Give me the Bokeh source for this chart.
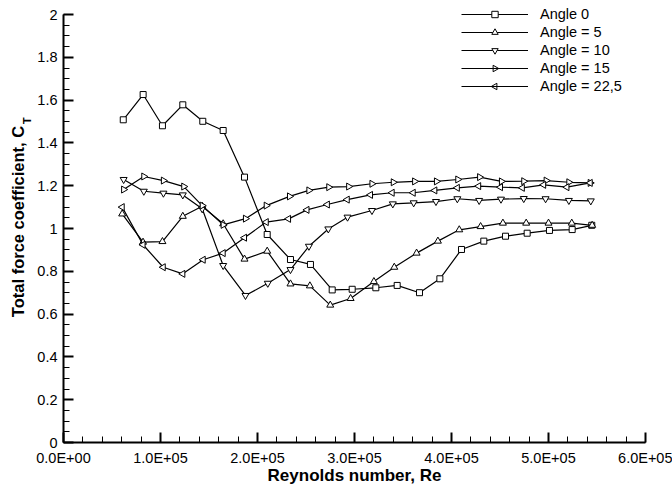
import math
from bokeh.plotting import figure
from bokeh.models import Range1d, FixedTicker, Legend, LegendItem, LinearAxis
from bokeh.embed import file_html
from bokeh.resources import INLINE

# ---------------- data ----------------
x_a0 = [61600, 82100, 102000, 123000, 143600, 164600, 186600, 210000, 234000, 254600, 277000, 297600,
        322000, 344000, 367000, 388000, 410300, 433300, 455700, 478000, 501000, 524400, 544600]
y_a0 = [1.508, 1.626, 1.48, 1.578, 1.501, 1.458, 1.24, 0.972, 0.855, 0.832, 0.713, 0.716,
        0.723, 0.734, 0.70, 0.765, 0.902, 0.941, 0.964, 0.978, 0.991, 0.995, 1.015]

x_a5 = [60500, 82000, 102000, 123000, 143000, 164600, 186600, 210000, 234000, 254000, 275000, 296000,
        320000, 341000, 364000, 386000, 408000, 430000, 453000, 477000, 500000, 524000, 545000]
y_a5 = [1.068, 0.936, 0.939, 1.057, 1.104, 1.022, 0.857, 0.894, 0.741, 0.732, 0.642, 0.673,
        0.752, 0.819, 0.885, 0.941, 0.994, 1.009, 1.025, 1.025, 1.025, 1.025, 1.015]

x_a10 = [62000, 82800, 103000, 123000, 143000, 164600, 187600, 210600, 234000, 253000, 273000, 292800,
         318000, 339500, 361000, 384000, 406000, 428500, 451000, 474500, 497000, 521000, 543600]
y_a10 = [1.229, 1.174, 1.165, 1.157, 1.092, 0.827, 0.687, 0.744, 0.808, 0.917, 0.998, 1.053,
         1.084, 1.115, 1.12, 1.126, 1.139, 1.131, 1.137, 1.14, 1.139, 1.131, 1.129]

x_a15 = [62000, 82800, 103000, 124000, 143000, 164600, 187600, 209000, 233000, 253000, 273500, 294000,
         318000, 340000, 362000, 384500, 406500, 429000, 451500, 474500, 497600, 521000, 543000]
y_a15 = [1.182, 1.243, 1.224, 1.196, 1.107, 1.017, 1.046, 1.107, 1.15, 1.178, 1.193, 1.196,
         1.209, 1.216, 1.22, 1.22, 1.229, 1.24, 1.22, 1.221, 1.224, 1.216, 1.213]

x_a225 = [60500, 82000, 102800, 123000, 144000, 164600, 186600, 209000, 232000, 251000, 272000, 292500,
          316500, 338800, 360500, 382800, 406000, 428000, 450500, 473000, 495000, 519000, 543000]
y_a225 = [1.10, 0.924, 0.819, 0.788, 0.854, 0.885, 0.957, 1.03, 1.045, 1.087, 1.112, 1.135,
          1.157, 1.167, 1.167, 1.178, 1.19, 1.198, 1.193, 1.19, 1.204, 1.193, 1.213]

series_labels = ["Angle 0", "Angle = 5", "Angle = 10", "Angle = 15", "Angle = 22,5"]

x_ticks = [0, 100000, 200000, 300000, 400000, 500000, 600000]
x_tick_labels = ["0.0E+00", "1.0E+05", "2.0E+05", "3.0E+05", "4.0E+05", "5.0E+05", "6.0E+05"]
y_ticks = [0, 0.2, 0.4, 0.6, 0.8, 1.0, 1.2, 1.4, 1.6, 1.8, 2.0]
y_tick_labels = ["0", "0.2", "0.4", "0.6", "0.8", "1", "1.2", "1.4", "1.6", "1.8", "2"]

x_title = "Reynolds number, Re"
y_title = "Total force coefficient, C"
y_title_sub = "T"

# ---------------- layout constants ----------------
FONT = "Liberation Sans"
W, H = 672, 488
B_LEFT, B_RIGHT, B_BOTTOM = 63, 27, 46
AXIS_TOP_PX = 14                      # gap between canvas top and the y = 2 tick
FRAME_W = W - B_LEFT - B_RIGHT
FRAME_H = H - B_BOTTOM                # frame reaches the canvas top
X0, X1, Y0, Y1 = 0, 600000, 0, 2
PX_PER_Y = (FRAME_H - AXIS_TOP_PX) / (Y1 - Y0)
Y_TOP = Y1 + AXIS_TOP_PX / PX_PER_Y   # visible top of the frame (above y = 2)

LEG_X, LEG_Y = 398, 348               # legend offset from frame bottom-left (px)
GLYPH_W, ROW_H, ROW_GAP = 67, 16, 2

# the subscript is centred along the axis by Bokeh; non-breaking spaces in front
# of it move it up so that it sits right after the "C" of the title
SUB_PAD = 66


def px_to_data_x(px_from_frame_left):
    return X0 + px_from_frame_left * (X1 - X0) / FRAME_W


def px_to_data_y(px_from_frame_bottom):
    return Y0 + px_from_frame_bottom / PX_PER_Y


p = figure(width=W, height=H, output_backend="svg", toolbar_location=None,
           x_range=Range1d(X0, X1), y_range=Range1d(Y0, Y_TOP),
           min_border_left=B_LEFT, min_border_right=B_RIGHT,
           min_border_top=0, min_border_bottom=B_BOTTOM)
p.outline_line_color = None
p.grid.visible = False
p.background_fill_color = "white"
p.border_fill_color = "white"

x_minor = [i * 20000 for i in range(31)]
y_minor = [round(i * 0.05, 3) for i in range(41)]

xax = p.xaxis[0]
yax = p.yaxis[0]
xax.ticker = FixedTicker(ticks=x_ticks, minor_ticks=x_minor)
yax.ticker = FixedTicker(ticks=y_ticks, minor_ticks=y_minor)
xax.major_label_overrides = {t: l for t, l in zip(x_ticks, x_tick_labels)}
yax.major_label_overrides = {t: l for t, l in zip(y_ticks, y_tick_labels)}
xax.bounds = (X0, X1)
yax.bounds = (Y0, Y1)

for ax in (xax, yax):
    ax.axis_line_width = 2
    ax.axis_line_color = "black"
    ax.major_tick_line_width = 2
    ax.major_tick_line_color = "black"
    ax.major_tick_in = 10
    ax.major_tick_out = 0
    ax.minor_tick_line_width = 1
    ax.minor_tick_line_color = "black"
    ax.minor_tick_in = 6
    ax.minor_tick_out = 0
    ax.major_label_text_font = FONT
    ax.major_label_text_font_size = "14.5px"
    ax.major_label_text_color = "black"
    ax.axis_label_text_font = FONT
    ax.axis_label_text_font_style = "bold"
    ax.axis_label_text_color = "black"

xax.axis_label = x_title
xax.axis_label_text_font_size = "17px"
xax.major_label_standoff = 7
xax.axis_label_standoff = -3
yax.major_label_standoff = 6


def label_only_axis(text, size, standoff):
    ax = LinearAxis(axis_label=text, ticker=FixedTicker(ticks=[], minor_ticks=[]),
                    axis_line_color=None, major_tick_line_color=None, minor_tick_line_color=None,
                    major_tick_in=0, major_tick_out=0, minor_tick_in=0, minor_tick_out=0,
                    major_label_standoff=0, axis_label_standoff=standoff,
                    axis_label_text_font=FONT, axis_label_text_font_style="bold",
                    axis_label_text_font_size=size, axis_label_text_color="black")
    return ax


# y-axis title "Total force coefficient, C" with subscript "T"
p.add_layout(label_only_axis("\u00a0" * SUB_PAD + y_title_sub, "11px", 2), "left")
p.add_layout(label_only_axis(y_title, "16.5px", -9), "left")

series = [
    (x_a0, y_a0, "square", 0.0, 6),
    (x_a5, y_a5, "triangle", 0.0, 7),
    (x_a10, y_a10, "inverted_triangle", 0.0, 7),
    (x_a15, y_a15, "triangle", -math.pi / 2, 7),
    (x_a225, y_a225, "triangle", math.pi / 2, 7),
]

items = []
for i, ((xs, ys, mk, ang, sz), lab) in enumerate(zip(series, series_labels)):
    r_line = p.line(xs, ys, line_color="black", line_width=1.2)
    r_mk = p.scatter(xs, ys, marker=mk, angle=ang, size=sz, line_color="black",
                     line_width=1, fill_color="white")
    if ang == 0.0:
        items.append(LegendItem(label=lab, renderers=[r_line, r_mk]))
    else:
        # Bokeh legends ignore marker rotation: draw the rotated sample marker
        # on top of the legend line at the legend row's position.
        items.append(LegendItem(label=lab, renderers=[r_line]))
        n_rows = len(series_labels)
        leg_h = n_rows * ROW_H + (n_rows - 1) * ROW_GAP
        row_center_from_bottom = LEG_Y + leg_h - (i * (ROW_H + ROW_GAP) + ROW_H / 2)
        p.scatter([px_to_data_x(LEG_X + GLYPH_W / 2)], [px_to_data_y(row_center_from_bottom)],
                  marker=mk, angle=ang, size=6.5, line_color="black", line_width=1,
                  fill_color="white", level="overlay")

legend = Legend(items=items, location=(LEG_X, LEG_Y), padding=0, margin=0,
                glyph_width=GLYPH_W, glyph_height=ROW_H, label_height=ROW_H, spacing=ROW_GAP,
                label_standoff=12, label_text_font=FONT, label_text_font_size="14.5px",
                label_text_color="black", border_line_color=None,
                background_fill_alpha=0)
p.add_layout(legend)

open("out.html", "w").write(file_html(p, INLINE))
